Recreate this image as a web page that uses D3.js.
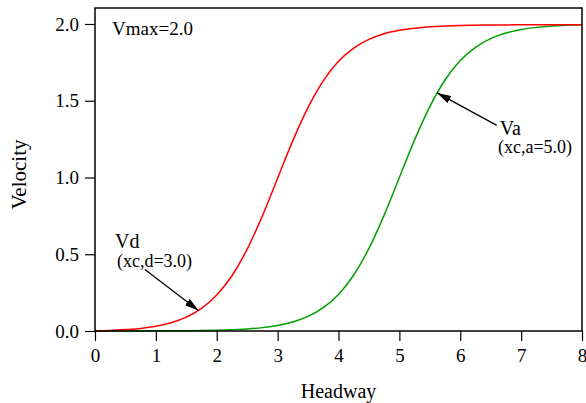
<!DOCTYPE html>
<html>
<head>
<meta charset="utf-8">
<script src="https://cdn.jsdelivr.net/npm/d3@7"></script>
</head>
<body style="margin:0;background:#fff">
<script>
/* data */
const headway = [0, 0.25, 0.5, 0.75, 1, 1.25, 1.5, 1.75, 2, 2.25, 2.5, 2.75, 3, 3.25, 3.5, 3.75,
  4, 4.25, 4.5, 4.75, 5, 5.25, 5.5, 5.75, 6, 6.25, 6.5, 6.75, 7, 7.25, 7.5, 7.75, 8];
const vd = [0.000, 0.003, 0.009, 0.017, 0.031, 0.054, 0.090, 0.147, 0.234, 0.360, 0.533, 0.750, 0.995,
  1.240, 1.457, 1.630, 1.757, 1.843, 1.900, 1.937, 1.959, 1.973, 1.982, 1.987, 1.990, 1.992, 1.994,
  1.994, 1.995, 1.995, 1.995, 1.995, 1.995];
const va = [0.000, 0.000, 0.000, 0.000, 0.001, 0.001, 0.002, 0.003, 0.005, 0.008, 0.013, 0.022, 0.036,
  0.059, 0.095, 0.152, 0.238, 0.365, 0.538, 0.755, 1.000, 1.245, 1.462, 1.635, 1.762, 1.848, 1.905,
  1.941, 1.964, 1.978, 1.987, 1.992, 1.995];
const xTicks = [0, 1, 2, 3, 4, 5, 6, 7, 8];
const yTicks = [0, 0.5, 1.0, 1.5, 2.0];

const FONT = "Liberation Serif";

/* svg */
const width = 586;
const height = 403;
const margin = {top: 8, right: 4, bottom: 72, left: 95};

const svg = d3.select("body").append("svg")
  .attr("width", width)
  .attr("height", height);

const x = d3.scaleLinear().domain([0, 8]).range([margin.left, width - margin.right]);
const y = d3.scaleLinear().domain([0, 2]).range([height - margin.bottom, margin.top + 16]);

svg.append("defs").append("marker")
  .attr("id", "head")
  .attr("viewBox", "0 0 14 8")
  .attr("refX", 14).attr("refY", 4)
  .attr("markerWidth", 14).attr("markerHeight", 8)
  .attr("markerUnits", "userSpaceOnUse")
  .attr("orient", "auto")
  .append("path").attr("d", "M0,0L14,4L0,8Z").attr("fill", "#000");

/* curves */
const line = d3.line()
  .x(d => x(d[0]))
  .y(d => y(d[1]))
  .curve(d3.curveMonotoneX);

svg.append("path")
  .datum(d3.zip(headway, va))
  .attr("d", line)
  .attr("fill", "none")
  .attr("stroke", "#00a000")
  .attr("stroke-width", 1.5);

svg.append("path")
  .datum(d3.zip(headway, vd))
  .attr("d", line)
  .attr("fill", "none")
  .attr("stroke", "#ff0000")
  .attr("stroke-width", 1.5);

/* axes */
const xAxis = svg.append("g")
  .attr("transform", `translate(0,${height - margin.bottom})`)
  .call(d3.axisBottom(x).tickValues(xTicks).tickFormat(d3.format("d")).tickSize(10).tickPadding(8));
const yAxis = svg.append("g")
  .attr("transform", `translate(${margin.left},0)`)
  .call(d3.axisLeft(y).tickValues(yTicks).tickFormat(d3.format(".1f")).tickSize(10).tickPadding(6));

[xAxis, yAxis].forEach(g => {
  g.attr("font-family", FONT).attr("font-size", 19);
  g.select(".domain").remove();
  g.selectAll("line").attr("stroke", "#000").attr("stroke-width", 1.2);
  g.selectAll("text").attr("fill", "#000");
});

/* frame */
svg.append("rect")
  .attr("x", margin.left).attr("y", margin.top)
  .attr("width", width - margin.left - margin.right)
  .attr("height", height - margin.top - margin.bottom)
  .attr("fill", "none")
  .attr("stroke", "#000")
  .attr("stroke-width", 1.5);

/* labels */
function label(px, py, size, str) {
  return svg.append("text")
    .attr("x", px).attr("y", py)
    .attr("font-family", FONT)
    .attr("font-size", size)
    .attr("fill", "#000")
    .text(str);
}

label((margin.left + width - margin.right) / 2, 398, 20, "Headway").attr("text-anchor", "middle");

label(0, 0, 21, "Velocity")
  .attr("transform", `translate(26,${(margin.top + height - margin.bottom) / 2 + 5}) rotate(-90)`)
  .attr("text-anchor", "middle");

label(112, 35, 19, "Vmax=2.0");

/* annotations */
label(x(0.33), y(0.54), 20, "Vd");
label(x(0.36), y(0.42), 18, "(xc,d=3.0)");
svg.append("line")
  .attr("x1", x(0.82)).attr("y1", y(0.40))
  .attr("x2", x(1.70)).attr("y2", y(0.133))
  .attr("stroke", "#000").attr("stroke-width", 1.3)
  .attr("marker-end", "url(#head)");

label(x(6.65), y(1.275), 20, "Va");
label(x(6.62), y(1.16), 18, "(xc,a=5.0)");
svg.append("line")
  .attr("x1", x(6.60)).attr("y1", y(1.34))
  .attr("x2", x(5.62)).attr("y2", y(1.551))
  .attr("stroke", "#000").attr("stroke-width", 1.3)
  .attr("marker-end", "url(#head)");
</script>
</body>
</html>
